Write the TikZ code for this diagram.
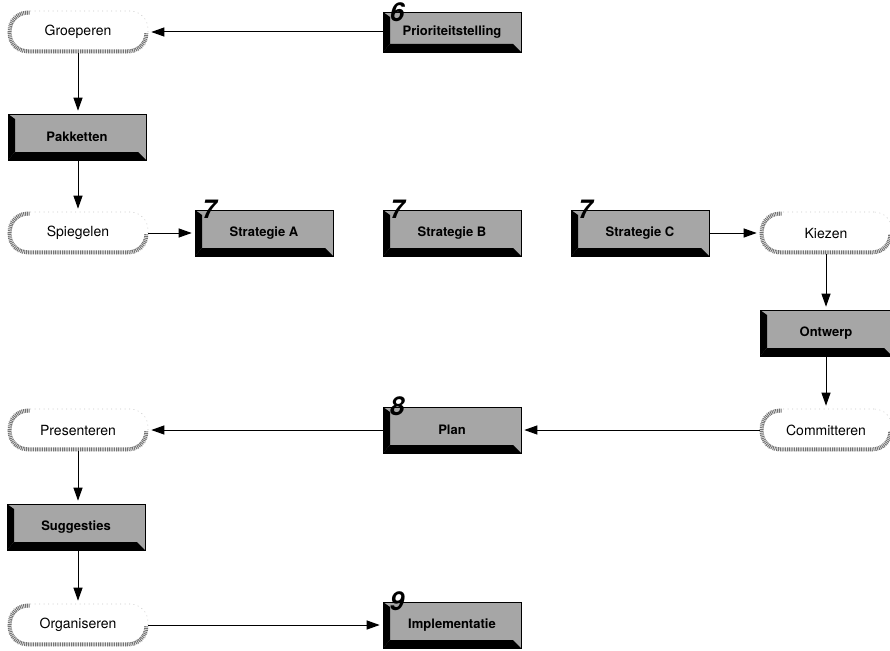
\documentclass[tikz,border=0pt]{standalone}
\usepackage{fontspec}
\setmainfont{TeX Gyre Heros}
\usetikzlibrary{arrows.meta}
\tikzset{
  bevbox/.style={minimum width=138pt, minimum height=46pt, inner sep=0pt,
    font=\bfseries\fontsize{13}{13}\selectfont, fill=black!35, draw=black, line width=0.6pt,
    path picture={
      \fill[black] (path picture bounding box.south west) -- (path picture bounding box.north west)
        -- ([shift={(7pt,-5pt)}]path picture bounding box.north west)
        -- ([shift={(7pt,8pt)}]path picture bounding box.south west) -- cycle;
      \fill[black] (path picture bounding box.south west) -- (path picture bounding box.south east)
        -- ([shift={(-8pt,8pt)}]path picture bounding box.south east)
        -- ([shift={(7pt,8pt)}]path picture bounding box.south west) -- cycle;
    }},
  numlabel/.style={inner sep=0pt, anchor=south west, font=\bfseries\itshape\fontsize{26}{26}\selectfont},
  pill/.style={minimum width=140pt, minimum height=42pt, inner sep=0pt, rounded corners=18pt,
    draw=gray!45, dash pattern=on 1pt off 3.5pt, line width=0.6pt, font=\fontsize{14}{14}\selectfont},
  pillshadow/.style={draw=black!55, line width=4pt, dash pattern=on 1pt off 0.8pt, rounded corners=18pt},
  conn/.style={line width=1pt, -{Triangle[length=13pt,width=9pt]}, shorten >=3pt},
}
\newcommand{\pillshade}[1]{\draw[pillshadow] ([xshift=22pt,yshift=-2pt]#1.north west) -- ([xshift=2pt,yshift=-2pt]#1.north west) -- ([xshift=2pt,yshift=2pt]#1.south west) -- ([xshift=-2pt,yshift=2pt]#1.south east) -- ([xshift=-2pt,yshift=20pt]#1.south east);}
\begin{document}
\begin{tikzpicture}[x=1pt,y=-1pt]
\useasboundingbox (0,0) rectangle (890,650);
% pills
\node[pill] (groep) at (78,32) {Groeperen};
\node[pill] (spieg) at (78,233) {Spiegelen};
\node[pill, minimum width=132pt] (kiez) at (826,233) {Kiezen};
\node[pill, minimum width=132pt] (comm) at (826,430) {Committeren};
\node[pill] (pres) at (78,430) {Presenteren};
\node[pill] (org) at (78,625) {Organiseren};
\foreach \n in {groep,spieg,kiez,comm,pres,org} {\pillshade{\n}}
% boxes
\node[bevbox, minimum height=40pt] (prio) at (452,32) {Prioriteitstelling};
\node[bevbox] (pakk) at (77,137) {Pakketten};
\node[bevbox] (stra) at (264,233) {Strategie A};
\node[bevbox] (strb) at (452,233) {Strategie B};
\node[bevbox] (strc) at (640,233) {Strategie C};
\node[bevbox, minimum width=132pt] (ontw) at (826,333) {Ontwerp};
\node[bevbox] (plan) at (452,430) {Plan};
\node[bevbox] (sugg) at (76,527) {Suggesties};
\node[bevbox] (impl) at (452,625) {Implementatie};
% numbers
\node[numlabel] (n6) at ([shift={(7pt,-10pt)}]prio.north west) {6};
\node[numlabel] (n7a) at ([shift={(7pt,-9pt)}]stra.north west) {7};
\node[numlabel] (n7b) at ([shift={(7pt,-9pt)}]strb.north west) {7};
\node[numlabel] (n7c) at ([shift={(7pt,-9pt)}]strc.north west) {7};
\node[numlabel] (n8) at ([shift={(7pt,-9pt)}]plan.north west) {8};
\node[numlabel] (n9) at ([shift={(7pt,-9pt)}]impl.north west) {9};
% connectors
\draw[conn] (prio) -- (groep);
\draw[conn] (groep) -- (groep |- pakk.north);
\draw[conn] (groep |- pakk.south) -- (spieg);
\draw[conn] (spieg) -- (stra);
\draw[conn] (strc) -- (kiez);
\draw[conn] (kiez) -- (ontw);
\draw[conn] (ontw) -- (comm);
\draw[conn] (comm) -- (plan);
\draw[conn] (plan) -- (pres);
\draw[conn] (pres) -- (pres |- sugg.north);
\draw[conn] (pres |- sugg.south) -- (org);
\draw[conn] (org) -- (impl);
\end{tikzpicture}
\end{document}
